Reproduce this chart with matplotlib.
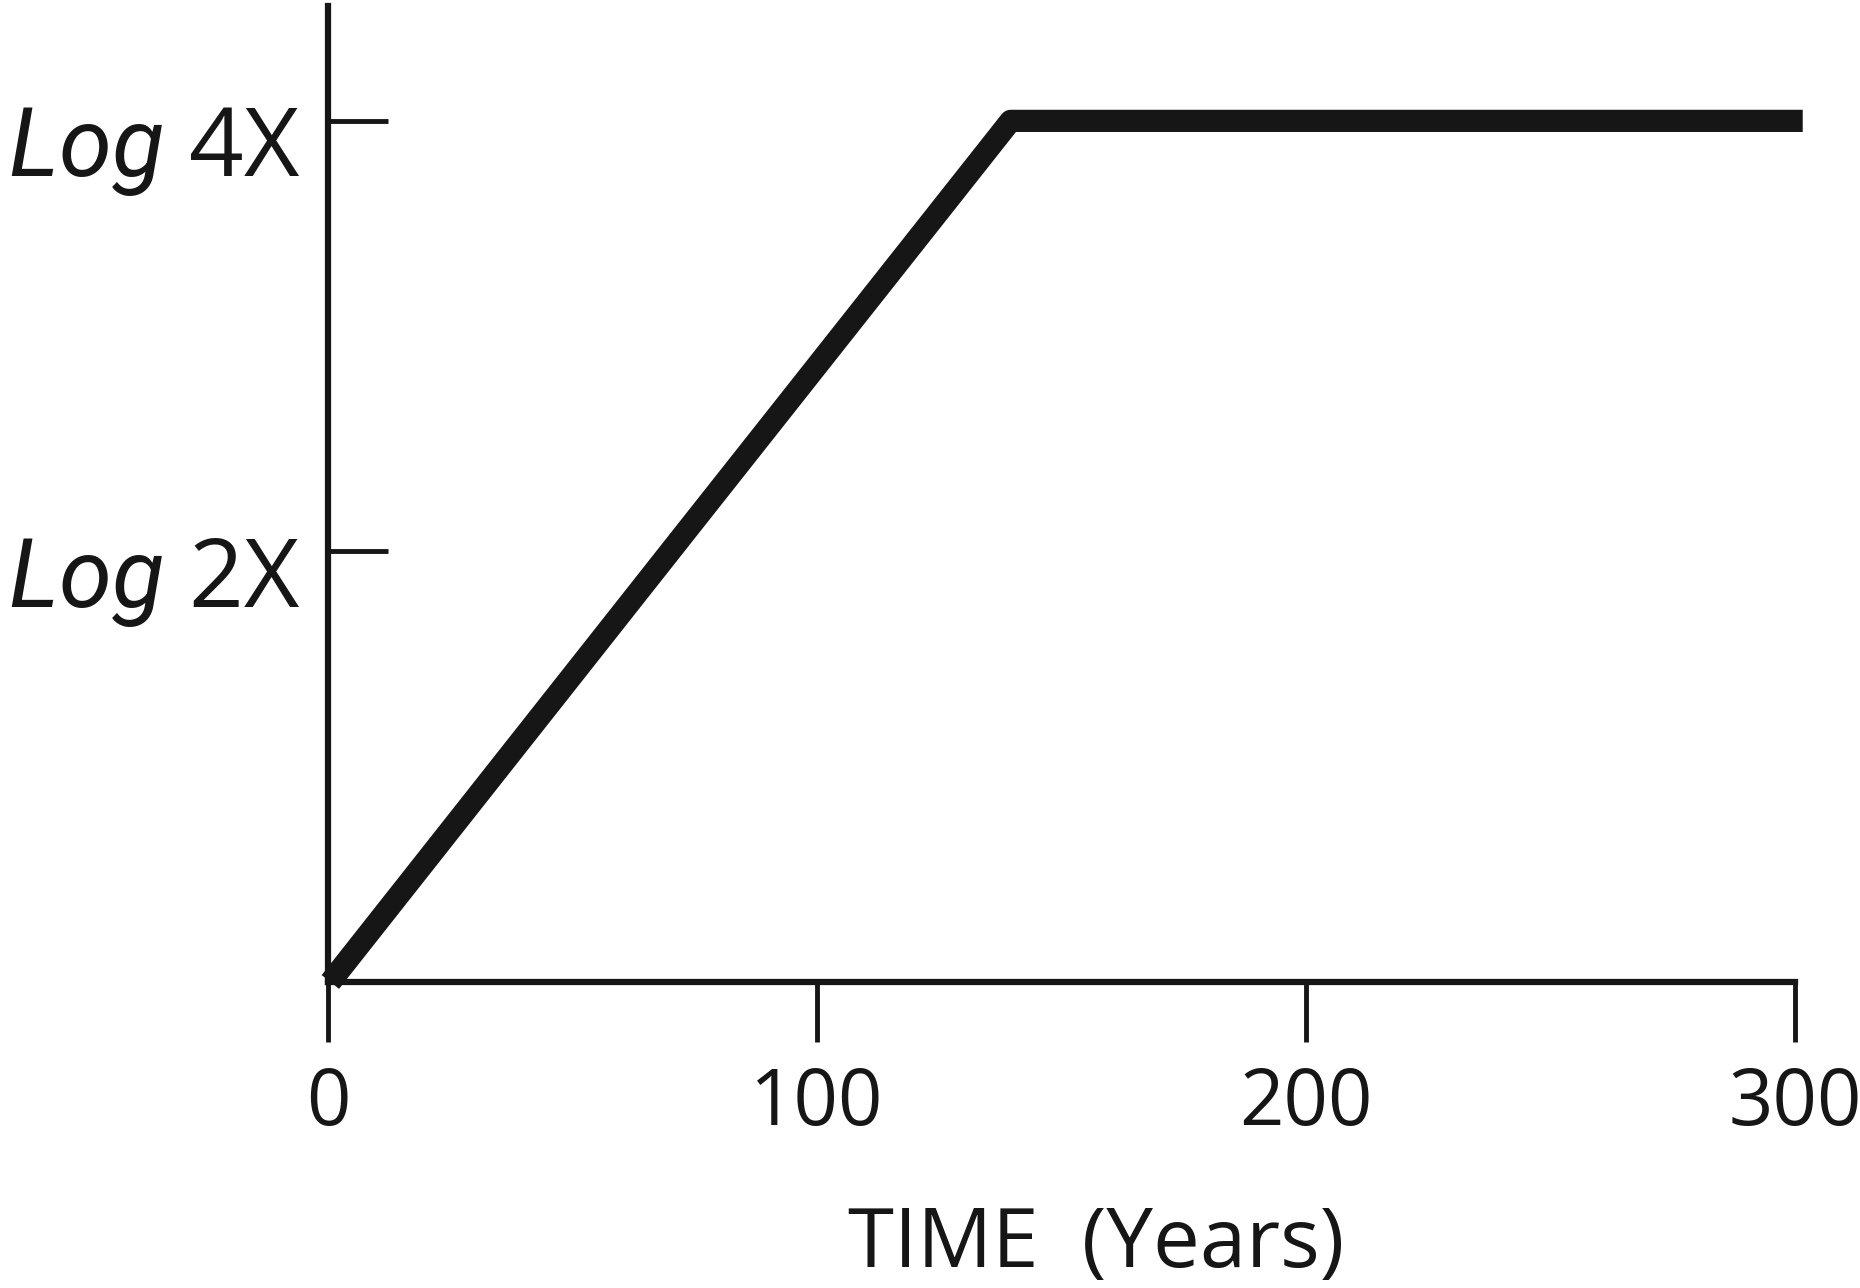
import numpy as np
import matplotlib
matplotlib.use("Agg")
import matplotlib.pyplot as plt
from matplotlib.transforms import ScaledTranslation

# growth curve (years, log units of 2X)
years = [0.5, 70, 139.6, 301.6]
log_size = [0, 1.0, 2.0, 2.0]

x_ticks = [0, 100, 200, 300]
x_tick_labels = ["0", "100", "200", "300"]
y_ticks = [1, 2]
y_tick_labels = [r"$\mathit{Log}$ 2X", r"$\mathit{Log}$ 4X"]

plt.rcParams['font.family'] = ['Open Sans', 'DejaVu Sans']
plt.rcParams['mathtext.fontset'] = 'custom'
plt.rcParams['mathtext.it'] = 'Roboto:italic'
plt.rcParams['mathtext.rm'] = 'Open Sans'

ink = '#161616'

fig = plt.figure(figsize=(18.6, 12.88), dpi=100)
ax = fig.add_axes([0.1763, 0.2376, 0.7887, 0.7578])

ax.plot(years, log_size, color=ink, linewidth=16,
        solid_capstyle='butt', solid_joinstyle='round', clip_on=False)

ax.set_xlim(0, 300)
ax.set_ylim(0, 2.267)

for side in ['top', 'right']:
    ax.spines[side].set_visible(False)
for side in ['left', 'bottom']:
    ax.spines[side].set_linewidth(4.5)
    ax.spines[side].set_color(ink)

ax.set_xticks(x_ticks)
ax.set_xticklabels(x_tick_labels)
ax.set_yticks(y_ticks)
ax.set_yticklabels(y_tick_labels)

ax.tick_params(axis='x', direction='out', length=43, width=3.5,
               color=ink, pad=17, labelsize=56, labelcolor=ink)
ax.tick_params(axis='y', direction='in', length=43, width=3.5,
               color=ink, pad=20, labelsize=69, labelcolor=ink)

# the y labels sit a little below their ticks in the original
shift = ScaledTranslation(0, -0.19, fig.dpi_scale_trans)
for lab in ax.get_yticklabels():
    lab.set_transform(lab.get_transform() + shift)

ax.set_xlabel("TIME  (Years)", fontsize=60, color=ink)
ax.xaxis.set_label_coords(0.524, -0.228)
ax.xaxis.label.set_va('top')

fig.savefig("out.png", dpi=100, facecolor='white')
